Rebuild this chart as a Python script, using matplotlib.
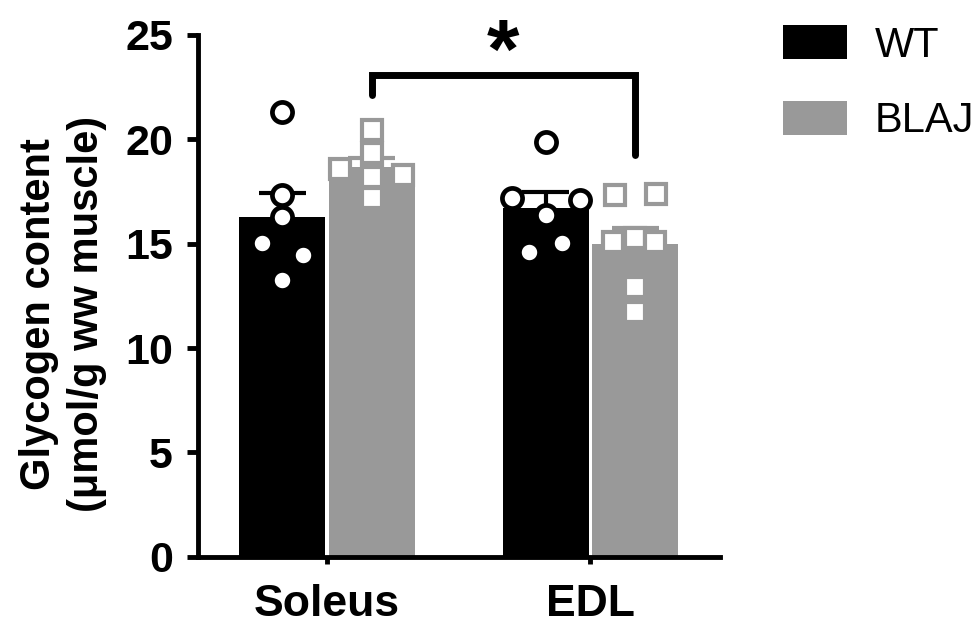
import numpy as np
import matplotlib
matplotlib.use('Agg')
from matplotlib import pyplot as plt

plt.rcParams['font.family'] = ['Liberation Sans', 'DejaVu Sans']

# data
muscles = ['Soleus', 'EDL']
groups = ['WT', 'BLAJ']
wt_soleus = [21.3, 17.33, 16.28, 15.03, 14.46, 13.26]
blaj_soleus = [20.44, 19.34, 18.58, 18.29, 18.2, 17.2]
wt_edl = [19.87, 17.18, 17.09, 16.37, 15.03, 14.6]
blaj_edl = [17.33, 17.37, 15.06, 15.27, 15.06, 12.94, 11.74]

# horizontal scatter of the dots inside each bar
jit_wt_soleus = [0, 0, 0, -0.077, 0.077, 0]
jit_blaj_soleus = [0, 0, -0.12, 0.12, 0, 0]
jit_wt_edl = [0, -0.128, 0.13, 0, 0.062, -0.063]
jit_blaj_edl = [-0.078, 0.078, -0.084, 0, 0.076, 0, 0]

BLACK = '#000000'
GRAY = '#999999'


def sem(v):
    v = np.asarray(v)
    return v.std(ddof=1) / np.sqrt(len(v))


def main():
    fig = plt.figure(figsize=(9.75, 6.26), dpi=100)
    ax = fig.add_axes([198 / 975, 1 - 556.7 / 626, 522 / 975, (556.7 - 35) / 626])

    x = np.arange(len(muscles))
    off = 0.17
    width = 0.325
    series = [
        (groups[0], [wt_soleus, wt_edl], [jit_wt_soleus, jit_wt_edl], BLACK, 'o', -off),
        (groups[1], [blaj_soleus, blaj_edl], [jit_blaj_soleus, jit_blaj_edl], GRAY, 's', off),
    ]

    handles = []
    for name, vals, jits, col, mk, dx in series:
        means = [np.mean(v) for v in vals]
        errs = [sem(v) for v in vals]
        b = ax.bar(x + dx, means, width, color=col, label=name, zorder=1)
        handles.append(b)
        # upper error bar only (SEM)
        ax.vlines(x + dx, means, np.add(means, errs), color=col, lw=3, zorder=2)
        ax.hlines(np.add(means, errs), x + dx - 0.089, x + dx + 0.089,
                  color=col, lw=3, zorder=2)
        for xi, v, j in zip(x + dx, vals, jits):
            ax.plot(xi + np.asarray(j), v, ls='none', marker=mk, ms=14.5,
                    mfc='white', mec=col, mew=3.4 if mk == 'o' else 3.0,
                    zorder=3, clip_on=False)

    # significance bracket
    ax.plot([0.17, 0.17, 1.17, 1.17], [22.12, 23.08, 23.08, 19.25],
            color='black', lw=5, solid_capstyle='round', solid_joinstyle='miter',
            zorder=4, clip_on=False)
    ax.text(0.668, 22.95, '*', ha='center', va='baseline', fontsize=60,
            fontweight='bold')

    ax.set_xlim(-0.4896, 1.4915)
    ax.set_ylim(0, 25)
    ax.set_yticks([0, 5, 10, 15, 20, 25])
    ax.set_xticks(x)
    ax.set_xticklabels(muscles)
    for s in ['top', 'right']:
        ax.spines[s].set_visible(False)
    for s in ['left', 'bottom']:
        ax.spines[s].set_linewidth(3.5)
    ax.tick_params(axis='y', length=8, width=3.5, pad=10, labelsize=31)
    ax.tick_params(axis='x', length=5, width=3.5, pad=15, labelsize=32)
    for lab in ax.get_xticklabels() + ax.get_yticklabels():
        lab.set_fontweight('bold')

    ax.set_ylabel('Glycogen content\n(μmol/g ww muscle)', fontsize=30,
                  fontweight='bold', linespacing=1.25)
    ax.yaxis.set_label_coords(-0.175, 0.465)

    ax.legend(handles=handles, labels=groups, loc='upper left',
              bbox_to_anchor=(783 / 975, 1 - 25 / 626), bbox_transform=fig.transFigure,
              frameon=False, fontsize=30, handlelength=1.53, handleheight=0.89,
              handletextpad=0.67, labelspacing=0.84, borderpad=0, borderaxespad=0)

    fig.savefig('out.png', dpi=100)


if __name__ == '__main__':
    main()
